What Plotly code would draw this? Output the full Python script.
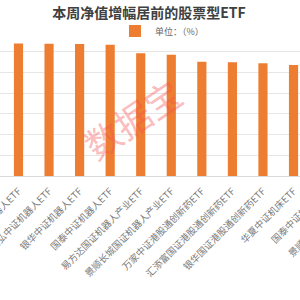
import plotly.graph_objects as go

categories = [
    "华宝中证机器人ETF",
    "天弘中证机器人ETF",
    "银华中证机器人ETF",
    "国泰中证机器人ETF",
    "易方达国证机器人产业ETF",
    "景顺长城国证机器人产业ETF",
    "万家中证港股通创新药ETF",
    "汇添富国证港股通创新药ETF",
    "银华国证港股通创新药ETF",
    "华夏中证机床ETF",
    "国泰中证机床ETF",
    "景顺长城中证机床ETF",
]
values = [6.40, 6.39, 6.37, 6.34, 5.93, 5.85, 5.52, 5.49, 5.44, 5.36, 5.30, 5.25]
series_name = "单位：（%）"
title_text = "本周净值增幅居前的股票型ETF"
watermark = "数据宝"

W, H = 360, 300
FONT = "Noto Sans CJK SC"

fig = go.Figure()
fig.add_trace(go.Bar(
    x=categories, y=values, name=series_name,
    marker=dict(color="#ED7D31", line=dict(width=0)),
    showlegend=True,
))

fig.update_layout(
    width=W, height=H,
    margin=dict(l=0, r=0, t=31, b=124, autoexpand=False),
    paper_bgcolor="white", plot_bgcolor="white",
    bargap=0.7,
    font=dict(family=FONT, color="#595959"),
    title=dict(text=title_text, x=149 / W, xref="container", xanchor="center",
               y=1 - 13 / H, yref="container", yanchor="middle",
               font=dict(family=FONT, size=14, color="#404040", weight="bold")),
    legend=dict(orientation="h", x=162 / W, xanchor="center", y=1.0, yanchor="middle",
                bgcolor="white", font=dict(size=9, color="#666666"),
                itemwidth=30, traceorder="normal"),
    xaxis=dict(type="category", range=[-0.605, -0.605 + W / 30.56],
               tickangle=-45, tickfont=dict(size=9.5, color="#7a7a7a"),
               ticklabelstandoff=5,
               showline=True, linecolor="#d9d9d9", linewidth=1, ticks="",
               showgrid=False, automargin=False),
    yaxis=dict(range=[0, 7], dtick=1, showgrid=True, gridcolor="#e6e6e6",
               showticklabels=False, zeroline=False, automargin=False),
    annotations=[dict(text=watermark, x=132 / W, y=(176 - 118) / 145,
                      xref="paper", yref="paper", showarrow=False, textangle=-34,
                      font=dict(family=FONT, size=36, color="rgba(245,80,80,0.4)"))],
)

fig.write_html("out.html")
